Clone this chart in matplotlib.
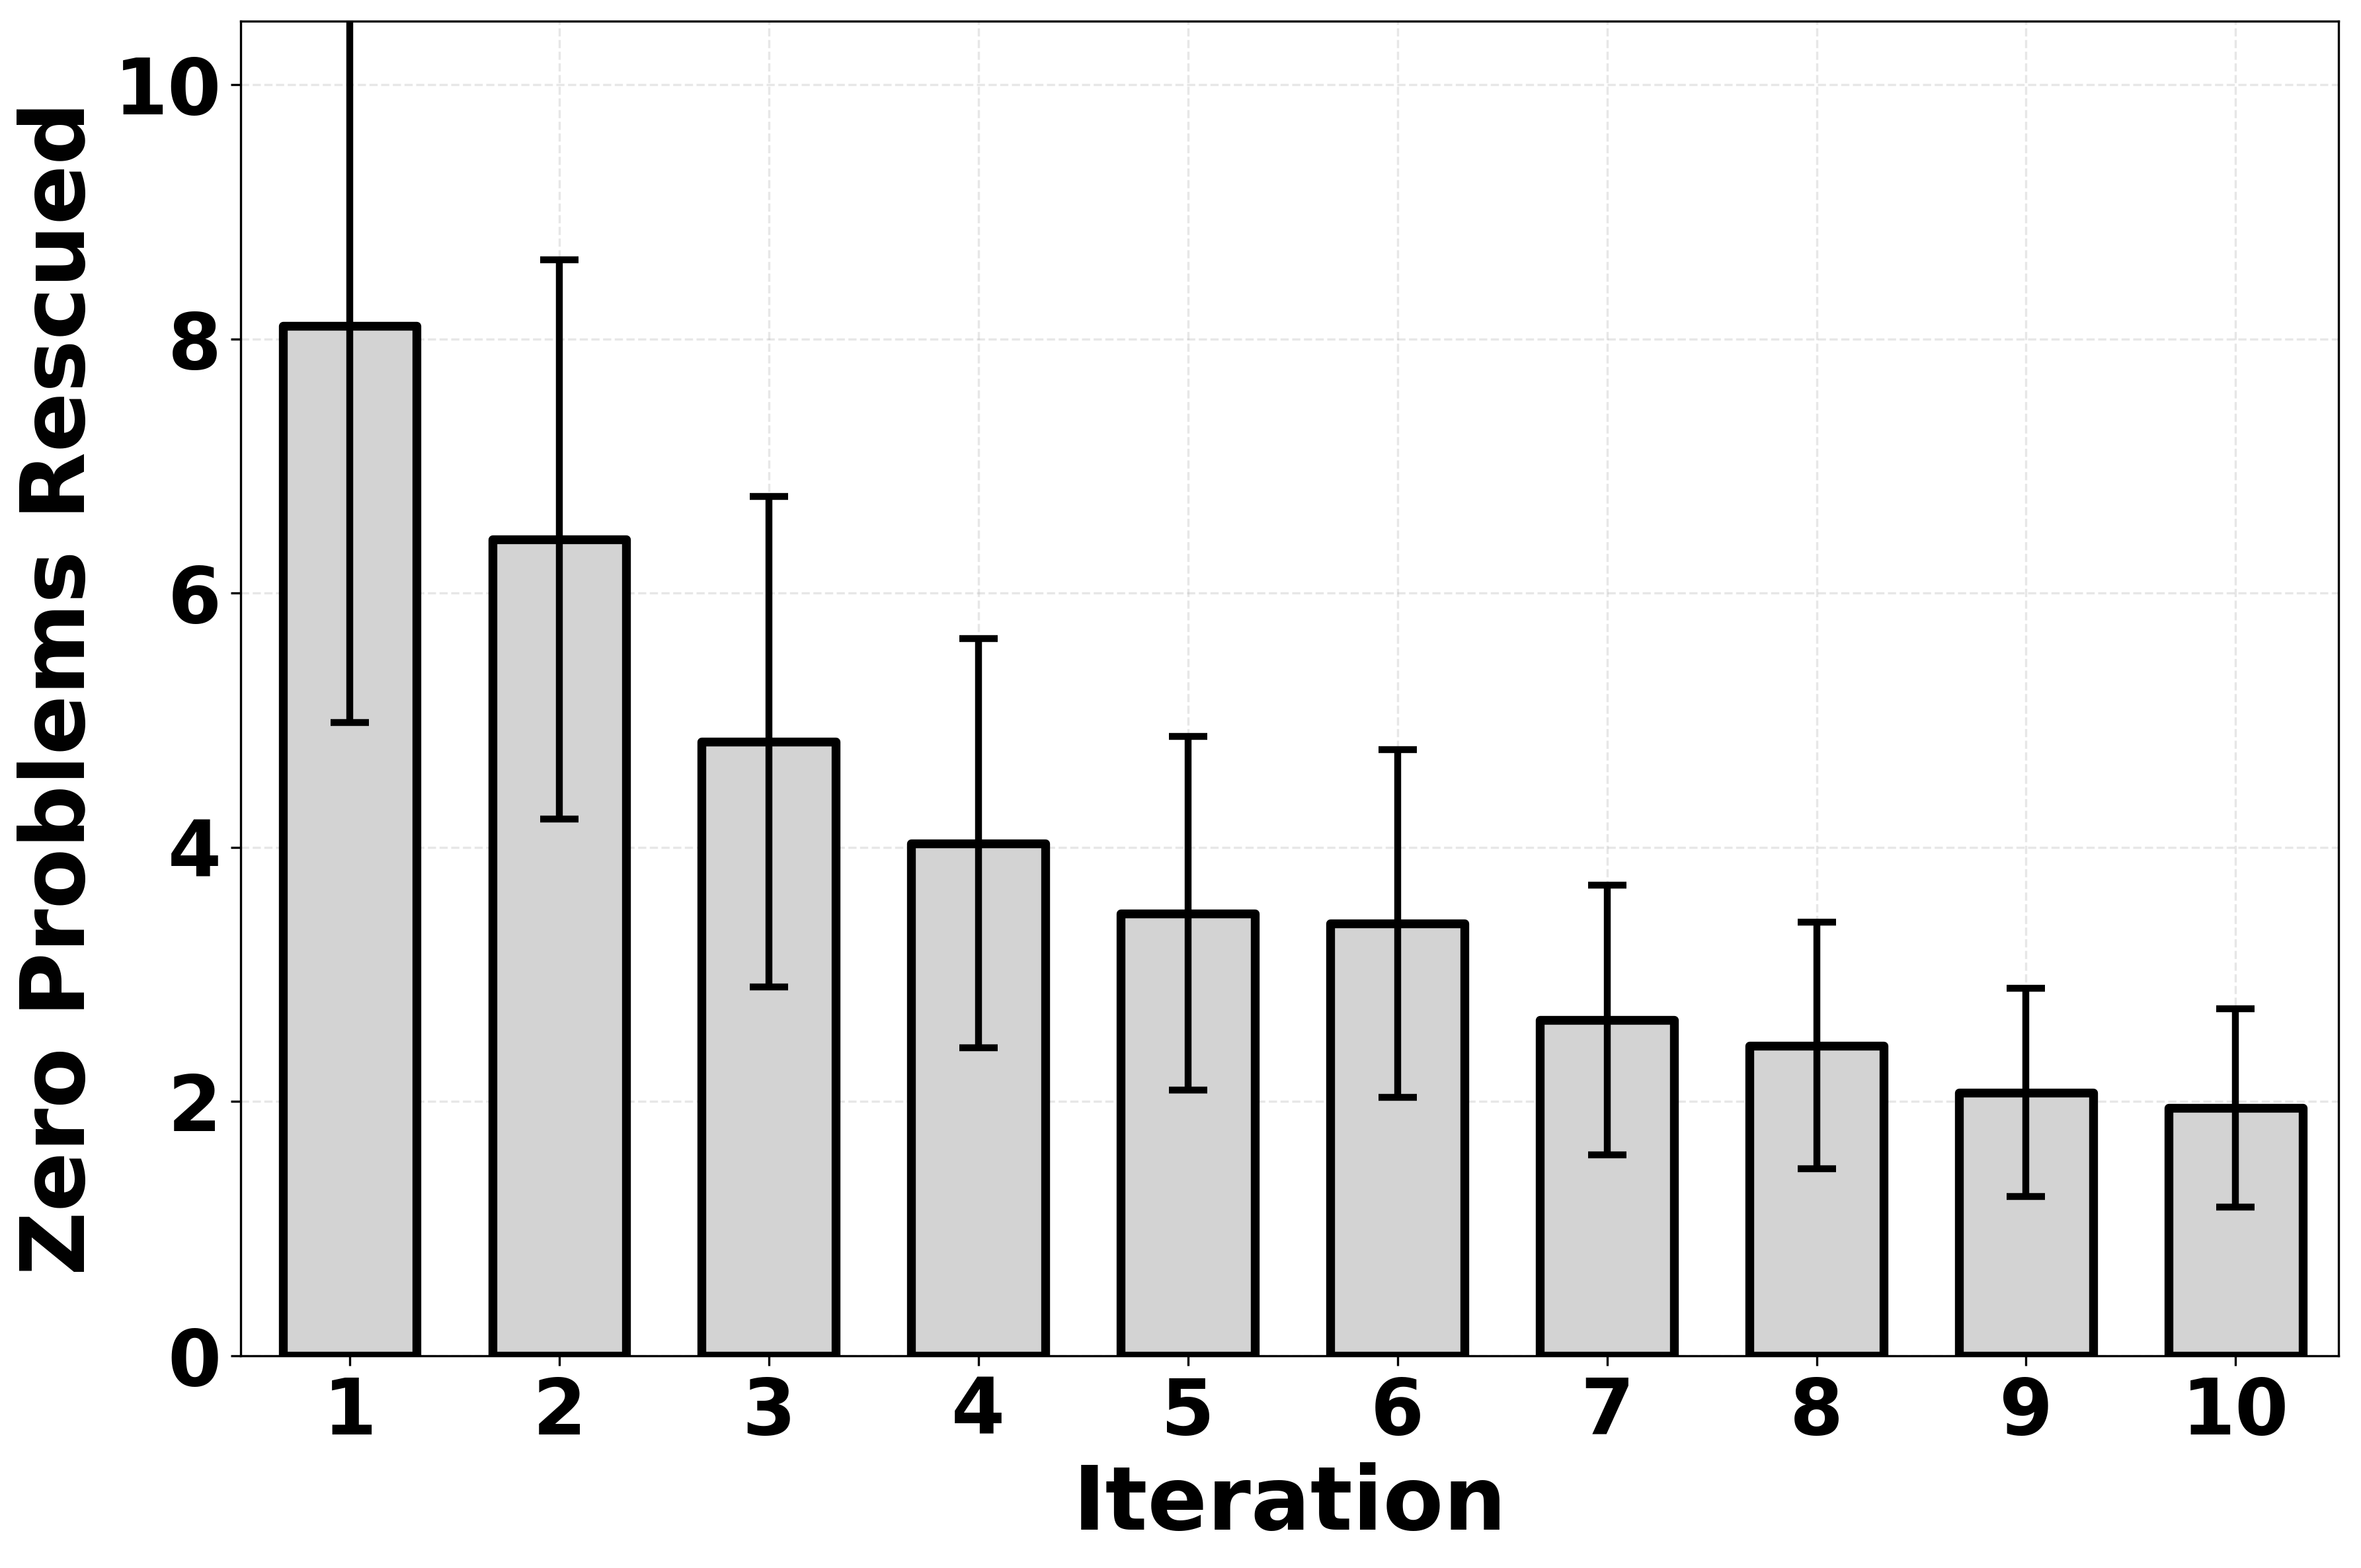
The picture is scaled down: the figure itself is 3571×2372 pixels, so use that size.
import numpy as np
import matplotlib
matplotlib.use('Agg')
import matplotlib.pyplot as plt

iterations = [1, 2, 3, 4, 5, 6, 7, 8, 9, 10]
rescued_mean = [8.10, 6.42, 4.83, 4.03, 3.48, 3.40, 2.64, 2.44, 2.07, 1.95]
rescued_std = [3.12, 2.20, 1.93, 1.61, 1.39, 1.37, 1.06, 0.97, 0.82, 0.78]

fig = plt.figure(figsize=(3571/300., 2372/300.), dpi=300)
ax = fig.add_axes([0.102, 0.1354, 0.8884, 0.8512])

bars = ax.bar(iterations, rescued_mean, width=0.64, color='lightgray',
              edgecolor='black', linewidth=3.2, zorder=2)
for b in bars:
    b.set_joinstyle('round')
ax.errorbar(iterations, rescued_mean, yerr=rescued_std, fmt='none',
            ecolor='black', elinewidth=2.5, capsize=7, capthick=2.5, zorder=3)

ax.set_xlim(0.48, 10.49)
ax.set_ylim(0, 10.5)
ax.set_xticks(iterations)
ax.set_yticks([0, 2, 4, 6, 8, 10])

ax.set_xlabel('Iteration', fontsize=32, fontweight='bold', labelpad=4)
ax.set_ylabel('Zero Problems Rescued', fontsize=32, fontweight='bold', labelpad=4)
for lab in ax.get_xticklabels() + ax.get_yticklabels():
    lab.set_fontsize(28)
    lab.set_fontweight('bold')

ax.grid(True, linestyle='--', alpha=0.3)
ax.set_axisbelow(True)

plt.savefig('out.png', dpi=300)
